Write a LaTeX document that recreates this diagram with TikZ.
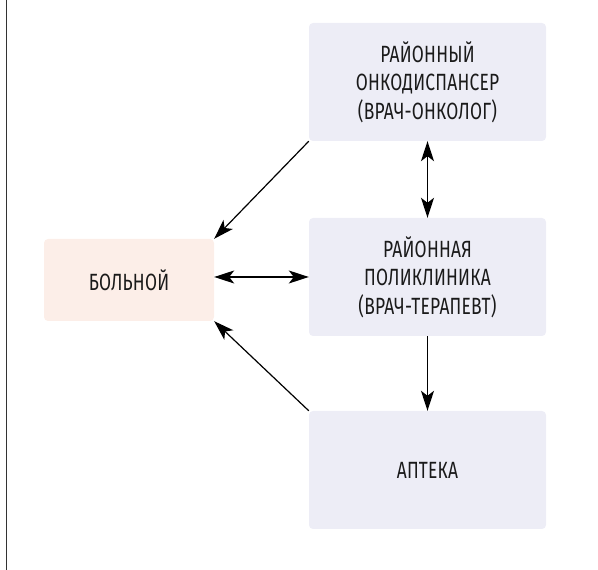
\documentclass[tikz,border=0pt]{standalone}
\usepackage{fontspec}
\setmainfont{Fira Sans}[FakeStretch=0.74,LetterSpace=1]
\usetikzlibrary{arrows.meta}
\definecolor{boxblue}{HTML}{EDEDF6}
\definecolor{boxpeach}{HTML}{FCEEE8}
\definecolor{txt}{HTML}{1A1A1A}
\begin{document}
\begin{tikzpicture}[x=1pt,y=1pt,
  box/.style={rectangle,rounded corners=4pt,minimum width=237pt,minimum height=118pt,fill=boxblue,text=txt,align=center,inner sep=0pt,font=\fontsize{23.5}{28.5}\selectfont},
  pbox/.style={box,fill=boxpeach,minimum width=170pt,minimum height=82pt},
  arr/.style={line width=1.2pt,draw=black,-{Stealth[length=20pt,width=13pt,inset=5pt]}},
  darr/.style={arr,{Stealth[length=20pt,width=13pt,inset=5pt]}-{Stealth[length=20pt,width=13pt,inset=5pt]}}]
\useasboundingbox (0,0) rectangle (598,570);
\coordinate (lt) at (6.5,570);
\coordinate (lb) at (6.5,0);
\draw[line width=1.3pt,draw=black!80] (lt) -- (lb);
\node[box] (onco) at (427.5,488) {РАЙОННЫЙ\\ОНКОДИСПАНСЕР\\(ВРАЧ-ОНКОЛОГ)};
\node[box] (poly) at (427.5,293) {РАЙОННАЯ\\ПОЛИКЛИНИКА\\(ВРАЧ-ТЕРАПЕВТ)};
\node[box] (apt) at (427.5,100) {АПТЕКА};
\node[pbox] (pat) at (129,290) {БОЛЬНОЙ};
\draw[darr] (onco.south) -- (poly.north);
\draw[darr] (pat.east |- poly.west) -- (poly.west);
\draw[arr] (poly.south) -- (apt.north);
\draw[arr] (onco.south west) -- (pat.north east);
\draw[arr] (apt.north west) -- (pat.south east);
\end{tikzpicture}
\end{document}
